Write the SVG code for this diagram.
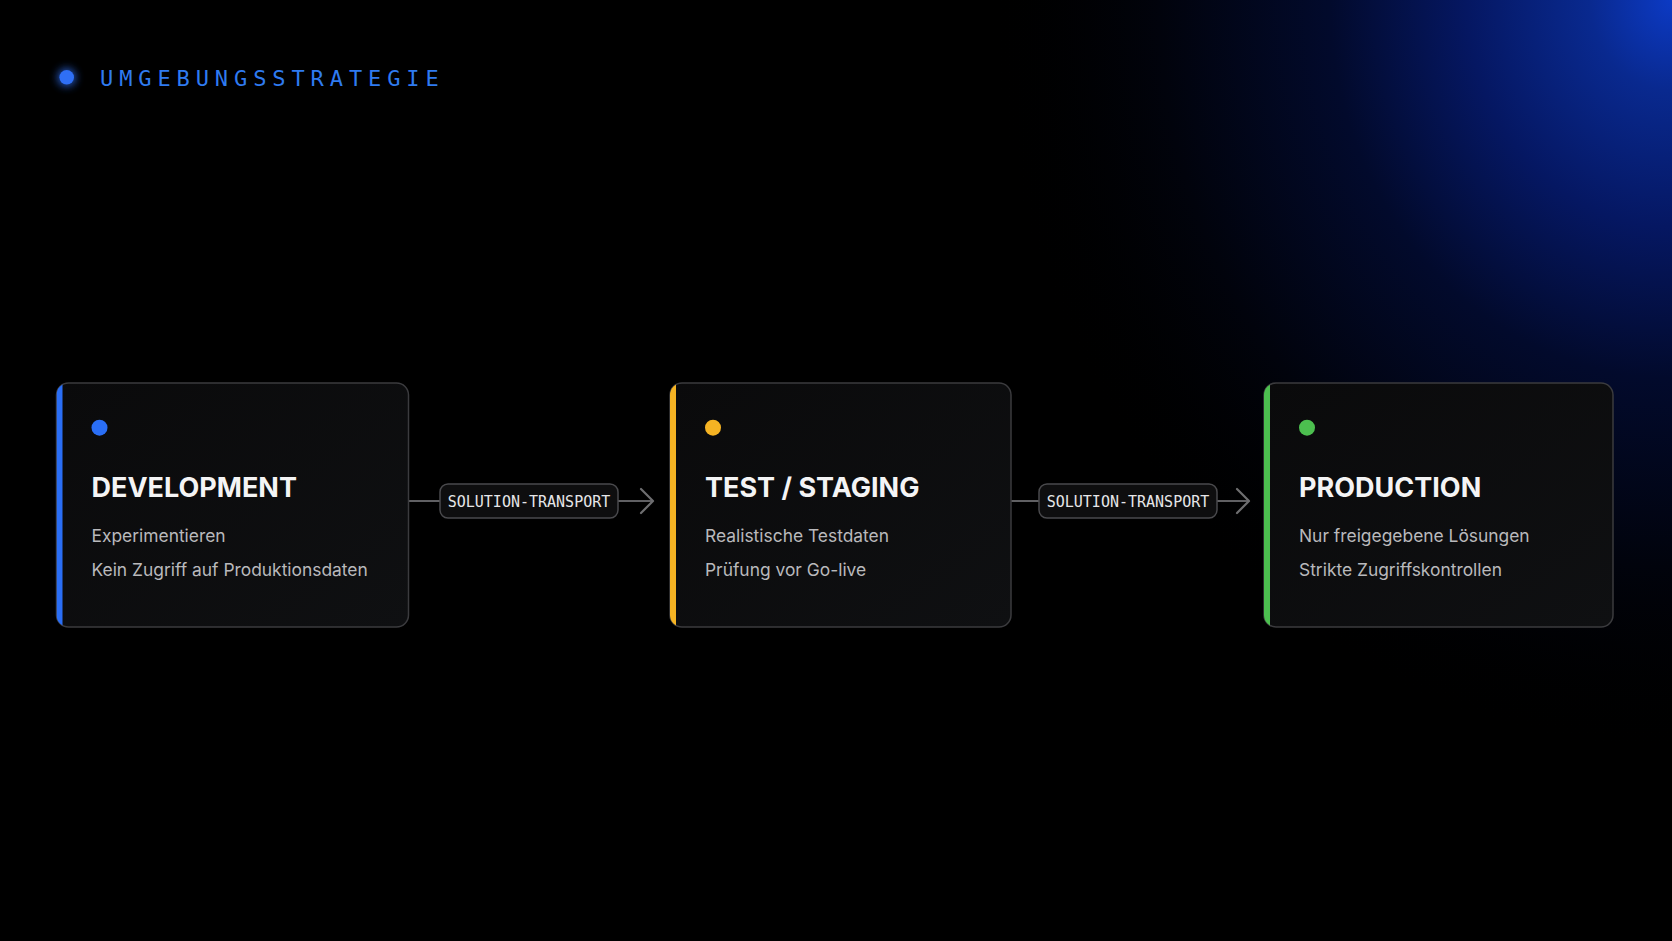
<svg xmlns="http://www.w3.org/2000/svg" width="1672" height="941" viewBox="0 0 1672 941">
  <defs>
    <radialGradient id="bgGlow" gradientUnits="userSpaceOnUse" cx="1672" cy="0" r="720" gradientTransform="translate(1672 0) scale(0.95 1.05) translate(-1672 0)">
      <stop offset="0" stop-color="#0c3ac4"/>
      <stop offset="0.12" stop-color="#09298f"/>
      <stop offset="0.3" stop-color="#051762"/>
      <stop offset="0.5" stop-color="#020a2c"/>
      <stop offset="0.75" stop-color="#01030c"/>
      <stop offset="1" stop-color="#000000" stop-opacity="0"/>
    </radialGradient>
    <linearGradient id="cardFill" x1="0" y1="0" x2="1" y2="1">
      <stop offset="0" stop-color="#0a0a0b"/>
      <stop offset="1" stop-color="#0f1012"/>
    </linearGradient>
    <filter id="glow" x="-100%" y="-100%" width="300%" height="300%">
      <feGaussianBlur stdDeviation="4"/>
    </filter>
    <clipPath id="clip1"><rect x="56.5" y="383" width="352" height="244" rx="12"/></clipPath>
    <clipPath id="clip2"><rect x="670" y="383" width="341" height="244" rx="12"/></clipPath>
    <clipPath id="clip3"><rect x="1264" y="383" width="349" height="244" rx="12"/></clipPath>
    <marker id="chev" viewBox="0 0 16 28" refX="14" refY="14" markerWidth="16" markerHeight="28" markerUnits="userSpaceOnUse" orient="auto">
      <path d="M2 2 L14 14 L2 26" fill="none" stroke="#6e6e70" stroke-width="2.2" stroke-linecap="round" stroke-linejoin="round"/>
    </marker>
  </defs>
  <style>
    .card { fill: url(#cardFill); stroke: #3b3b3e; stroke-width: 1.5; }
    .title { font-family: Inter, "Liberation Sans", sans-serif; font-weight: 700; font-size: 27px; fill: #f4f4f5; }
    .body { font-family: Inter, "Liberation Sans", sans-serif; font-weight: 400; font-size: 17.4px; fill: #b9b9bc; }
    .pill { fill: #0e0e0f; stroke: #4a4a4d; stroke-width: 1.5; }
    .pilltext { font-family: "DejaVu Sans Mono", "Liberation Mono", monospace; font-size: 15px; font-weight: 500; fill: #e6e6e8; text-anchor: middle; }
    .conn { stroke: #606063; stroke-width: 2; fill: none; }
    .head { font-family: "DejaVu Sans Mono", "Liberation Mono", monospace; font-size: 22px; letter-spacing: 5.9px; fill: #2f7bf0; }
  </style>

  <rect x="0" y="0" width="1672" height="941" fill="#000000"/>
  <rect x="0" y="0" width="1672" height="941" fill="url(#bgGlow)"/>

  <g id="header">
    <circle cx="66.7" cy="77.3" r="9" fill="#2f6ff5" filter="url(#glow)" opacity="0.8"/>
    <circle cx="66.7" cy="77.3" r="7.3" fill="#2f6ff5"/>
    <text class="head" x="100" y="86">UMGEBUNGSSTRATEGIE</text>
  </g>

  <g id="connectors">
    <line class="conn" x1="408.3" y1="501" x2="440" y2="501"/>
    <line class="conn" x1="618" y1="501" x2="653" y2="501" marker-end="url(#chev)"/>
    <line class="conn" x1="1011" y1="501" x2="1039" y2="501"/>
    <line class="conn" x1="1217" y1="501" x2="1249" y2="501" marker-end="url(#chev)"/>
    <g id="label1">
      <rect class="pill" x="440" y="484" width="178" height="34" rx="8"/>
      <text class="pilltext" x="529" y="506.5">SOLUTION-TRANSPORT</text>
    </g>
    <g id="label2">
      <rect class="pill" x="1039" y="484" width="178" height="34" rx="8"/>
      <text class="pilltext" x="1128" y="506.5">SOLUTION-TRANSPORT</text>
    </g>
  </g>

  <g id="node-development">
    <rect class="card" x="56.5" y="383" width="352" height="244" rx="12"/>
    <rect x="56.5" y="383" width="6" height="244" fill="#2a6ef5" clip-path="url(#clip1)"/>
    <circle cx="99.5" cy="427.7" r="8" fill="#2a6ef5"/>
    <text class="title" x="91.5" y="496.5">DEVELOPMENT</text>
    <text class="body" x="91.5" y="541.5">Experimentieren</text>
    <text class="body" x="91.5" y="575.5">Kein Zugriff auf Produktionsdaten</text>
  </g>

  <g id="node-test">
    <rect class="card" x="670" y="383" width="341" height="244" rx="12"/>
    <rect x="670" y="383" width="6" height="244" fill="#f5b323" clip-path="url(#clip2)"/>
    <circle cx="713" cy="427.7" r="8" fill="#f5b323"/>
    <text class="title" x="705" y="496.5">TEST / STAGING</text>
    <text class="body" x="705" y="541.5">Realistische Testdaten</text>
    <text class="body" x="705" y="575.5">Prüfung vor Go-live</text>
  </g>

  <g id="node-production">
    <rect class="card" x="1264" y="383" width="349" height="244" rx="12"/>
    <rect x="1264" y="383" width="6" height="244" fill="#4cbf4f" clip-path="url(#clip3)"/>
    <circle cx="1307" cy="427.7" r="8" fill="#4cbf4f"/>
    <text class="title" x="1299" y="496.5">PRODUCTION</text>
    <text class="body" x="1299" y="541.5">Nur freigegebene Lösungen</text>
    <text class="body" x="1299" y="575.5">Strikte Zugriffskontrollen</text>
  </g>
</svg>
